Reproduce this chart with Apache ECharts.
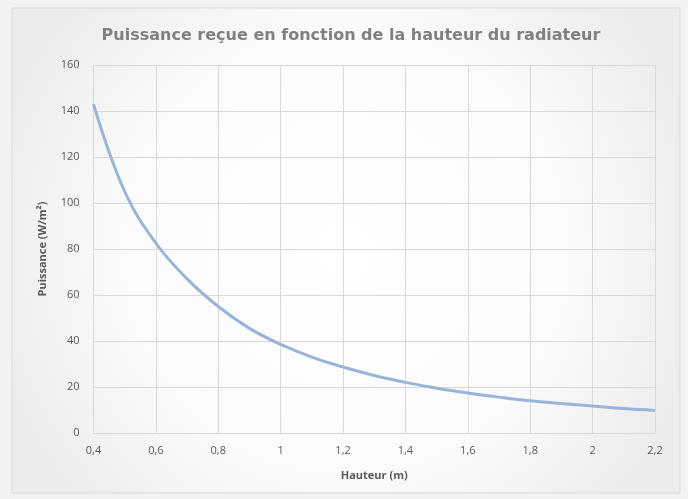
<!DOCTYPE html>
<html><head><meta charset="utf-8">
<script src="https://cdn.jsdelivr.net/npm/echarts@6/dist/echarts.min.js"></script>
<style>html,body{margin:0;padding:0;background:#fff}#c{width:688px;height:499px}</style>
</head><body><div id="c"></div>
<script>
var hauteur = [0.4,0.5,0.6,0.7,0.8,0.9,1.0,1.1,1.2,1.3,1.4,1.5,1.6,1.7,1.8,1.9,2.0,2.1,2.2];
var puissance = [143,105,82.5,67,55,45.5,38.5,33,28.7,25,22,19.5,17.4,15.6,14,12.8,11.7,10.6,9.8];
var titleText = 'Puissance reçue en fonction de la hauteur du radiateur';
var xName = 'Hauteur (m)';
var yName = 'Puissance (W/m²)';

var chart = echarts.init(document.getElementById('c'));
var pts = hauteur.map(function(h,i){return [h, puissance[i]];});
var fmt = function(v){return String(Number(v.toFixed(1))).replace('.', ',');};
chart.setOption({
  backgroundColor: '#f2f2f2',
  graphic: [{
    type: 'rect', z: -10, silent: true,
    shape: {x: 12, y: 8, width: 668, height: 485},
    style: {
      fill: {type: 'radial', x: 0.5, y: 0.5, r: 0.75,
        colorStops: [{offset: 0, color: '#ffffff'}, {offset: 0.6, color: '#fbfbfb'}, {offset: 1, color: '#ececec'}]},
      stroke: '#d9d9d9', lineWidth: 1
    }
  }],
  title: {
    text: titleText, left: 346, textAlign: 'center', top: 23,
    textStyle: {fontFamily: 'DejaVu Sans', fontSize: 16, fontWeight: 'bold', color: '#808080'}
  },
  grid: {left: 93.5, right: 33, top: 65, bottom: 66},
  xAxis: {
    type: 'value', min: 0.4, max: 2.2, interval: 0.2,
    name: xName, nameLocation: 'middle', nameGap: 37,
    nameTextStyle: {fontFamily: 'Open Sans', fontSize: 11, fontWeight: 'bold', color: '#595959'},
    axisLine: {show: true, lineStyle: {color: '#d9d9d9'}},
    axisTick: {show: false},
    axisLabel: {formatter: fmt, color: '#595959', fontFamily: 'Open Sans', fontSize: 11, margin: 12},
    splitLine: {show: true, lineStyle: {color: '#d9d9d9'}}
  },
  yAxis: {
    type: 'value', min: 0, max: 160, interval: 20,
    name: yName, nameLocation: 'middle', nameGap: 45,
    nameTextStyle: {fontFamily: 'Open Sans', fontSize: 11, fontWeight: 'bold', color: '#595959'},
    axisLine: {show: true, lineStyle: {color: '#d9d9d9'}},
    axisTick: {show: false},
    axisLabel: {color: '#595959', fontFamily: 'Open Sans', fontSize: 11, margin: 14},
    splitLine: {show: true, lineStyle: {color: '#d9d9d9'}}
  },
  series: [{
    type: 'line', data: pts, smooth: 0.4, showSymbol: false,
    lineStyle: {color: '#98b4da', width: 3}
  }]
});
</script></body></html>
